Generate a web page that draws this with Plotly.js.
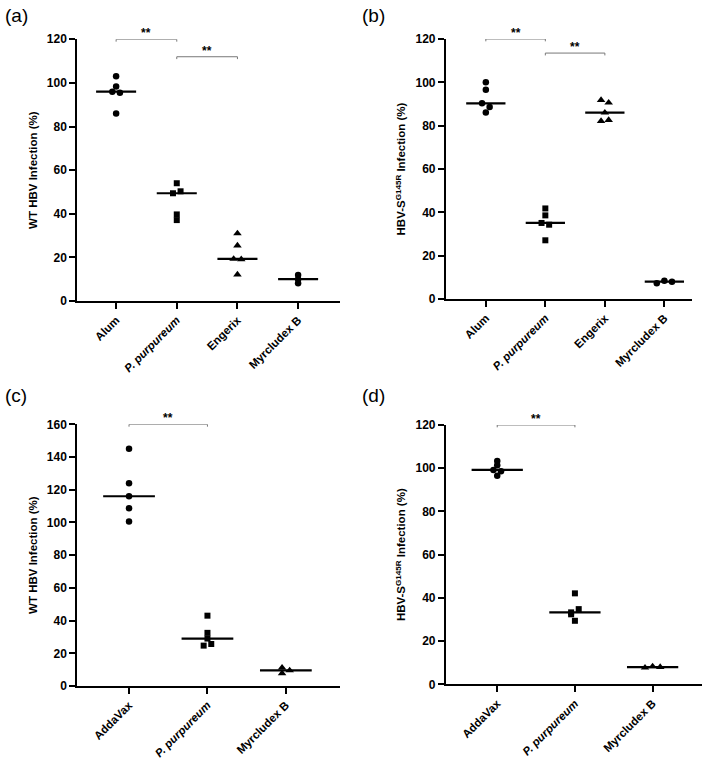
<!DOCTYPE html>
<html>
<head>
<meta charset="utf-8">
<script src="https://cdn.plot.ly/plotly-3.0.1.min.js"></script>
<style>html,body{margin:0;padding:0;background:#fff;}#chart{width:709px;height:763px;}</style>
</head>
<body>
<div id="chart"></div>
<script>
// ---------- DATA ----------
const catsAB = ['Alum', '<i>P. purpureum</i>', 'Engerix', 'Myrcludex B'];
const catsCD = ['AddaVax', '<i>P. purpureum</i>', 'Myrcludex B'];

const aAlum     = [103, 98.3, 96.0, 95.5, 86];
const aPpur     = [54, 49.4, 50.3, 39.7, 37.1];
const aEngerix  = [31, 25.4, 19.3, 19.1, 12.1];
const aMyr      = [11.9, 10, 8.1];

const bAlum     = [100, 96.6, 90.3, 88.6, 86.1];
const bPpur     = [41.8, 38.6, 35.1, 34.3, 27.1];
const bEngerix  = [91.8, 90.6, 86, 82.1, 82.6];
const bMyr      = [7.3, 8.4, 8.0];

const cAddaVax  = [145, 124, 116, 108.6, 100.5];
const cPpur     = [43, 32.5, 29, 24.7, 25.7];
const cMyr      = [11.2, 9.5, 7.8];

const dAddaVax  = [103.3, 101.4, 99.2, 98.6, 96.5];
const dPpur     = [42.1, 33.3, 34.8, 32.4, 29.4];
const dMyr      = [7.7, 8.3, 8.0];

const yTitleWT  = 'WT HBV Infection (%)';
const yTitleMut = 'HBV-S<sup>G145R</sup> Infection (%)';

// significance comparisons: [group i, group j, bracket level]
const sigA = [[0, 1, 120], [1, 2, 112]];
const sigB = [[0, 1, 120], [1, 2, 113.5]];
const sigC = [[0, 1, 160]];
const sigD = [[0, 1, 120]];

// ---------- BUILD ----------
const W = 709, H = 763;
const FONT = 'Liberation Sans, Arial, Helvetica, sans-serif';
const panels = [
  {label: '(a)', cats: catsAB, groups: [aAlum, aPpur, aEngerix, aMyr], syms: ['circle','square','triangle-up','circle'],
   title: yTitleWT, xd: [0.109, 0.4795], yd: [0.6055, 0.9485], xr: [-0.64, 3.69], yr: [0, 120], sig: sigA, lx: 3, ly: 3},
  {label: '(b)', cats: catsAB, groups: [bAlum, bPpur, bEngerix, bMyr], syms: ['circle','square','triangle-up','circle'],
   title: yTitleMut, xd: [0.629, 0.9765], yd: [0.6081, 0.9489], xr: [-0.67, 3.47], yr: [0, 120], sig: sigB, lx: 360, ly: 3},
  {label: '(c)', cats: catsCD, groups: [cAddaVax, cPpur, cMyr], syms: ['circle','square','triangle-up'],
   title: yTitleWT, xd: [0.109, 0.4795], yd: [0.1009, 0.4439], xr: [-0.66, 2.69], yr: [0, 160], sig: sigC, lx: 3, ly: 383},
  {label: '(d)', cats: catsCD, groups: [dAddaVax, dPpur, dMyr], syms: ['circle','square','triangle-up'],
   title: yTitleMut, xd: [0.629, 0.9906], yd: [0.1031, 0.443], xr: [-0.66, 2.64], yr: [0, 120], sig: sigD, lx: 360, ly: 383}
];

function median(arr) {
  const s = arr.slice().sort((a, b) => a - b);
  const n = s.length;
  return n % 2 ? s[(n - 1) / 2] : (s[n / 2 - 1] + s[n / 2]) / 2;
}

// GraphPad-like scatter spreading of overlapping points
function spread(vals, thr, h) {
  const order = vals.map((v, i) => i).sort((a, b) => vals[b] - vals[a]);
  const clusters = [];
  let cur = [order[0]];
  for (let k = 1; k < order.length; k++) {
    if (vals[cur[cur.length - 1]] - vals[order[k]] < thr) cur.push(order[k]);
    else { clusters.push(cur); cur = [order[k]]; }
  }
  clusters.push(cur);
  const off = new Array(vals.length).fill(0);
  clusters.forEach(cl => {
    const n = cl.length;
    if (n === 1) return;
    const members = cl.slice().sort((a, b) => a - b);
    const vs = members.map(i => vals[i]);
    const span = Math.max(...vs) - Math.min(...vs);
    members.forEach((idx, k) => {
      off[idx] = span < thr ? (k - (n - 1) / 2) * 2 * h : (k % 2 === 0 ? -h : h);
    });
  });
  return off;
}

const traces = [];
const layout = {
  width: W, height: H,
  margin: {l: 0, r: 0, t: 0, b: 0},
  paper_bgcolor: '#fff', plot_bgcolor: 'rgba(0,0,0,0)',
  showlegend: false,
  font: {family: FONT, color: '#000', size: 12},
  annotations: []
};

panels.forEach((p, pi) => {
  const n = pi + 1;
  const xa = 'x' + (n === 1 ? '' : n), ya = 'y' + (n === 1 ? '' : n);
  const xk = 'xaxis' + (n === 1 ? '' : n), yk = 'yaxis' + (n === 1 ? '' : n);
  const pxPerCat = (p.xd[1] - p.xd[0]) * W / (p.xr[1] - p.xr[0]);
  const h = 3.8 / pxPerCat;
  const thr = 0.015 * (p.yr[1] - p.yr[0]);

  // points
  p.groups.forEach((g, gi) => {
    const off = spread(g, thr, h);
    const sym = p.syms[gi];
    traces.push({
      type: 'scatter', mode: 'markers', xaxis: xa, yaxis: ya,
      x: g.map((v, i) => gi + off[i]), y: g,
      marker: {symbol: sym, color: '#000', size: sym === 'circle' ? 6.5 : (sym === 'square' ? 6 : 7.5), line: {width: 0}},
      cliponaxis: false, hoverinfo: 'y'
    });
  });

  // median lines
  const mx = [], my = [];
  p.groups.forEach((g, gi) => {
    const m = median(g);
    mx.push(gi - 0.33, gi + 0.33, null);
    my.push(m, m, null);
  });
  traces.push({type: 'scatter', mode: 'lines', xaxis: xa, yaxis: ya, x: mx, y: my,
    line: {color: '#000', width: 2.2}, hoverinfo: 'skip', cliponaxis: false});

  // significance brackets
  const drop = 0.009 * (p.yr[1] - p.yr[0]);
  p.sig.forEach(s => {
    traces.push({type: 'scatter', mode: 'lines', xaxis: xa, yaxis: ya,
      x: [s[0], s[0], s[1], s[1]], y: [s[2] - drop, s[2], s[2], s[2] - drop],
      line: {color: '#777', width: 1}, hoverinfo: 'skip', cliponaxis: false});
    layout.annotations.push({xref: xa, yref: ya, x: (s[0] + s[1]) / 2, y: s[2],
      text: '<b>**</b>', showarrow: false, yanchor: 'bottom', yshift: -3,
      font: {size: 12, color: '#000', family: FONT}});
  });

  layout[xk] = {
    domain: p.xd, range: p.xr, anchor: ya, type: 'linear',
    tickvals: p.cats.map((c, i) => i), ticktext: p.cats, tickangle: -45,
    showgrid: false, zeroline: false, showline: true, linecolor: '#000', linewidth: 2,
    ticks: 'outside', ticklen: 6, tickwidth: 2, tickcolor: '#000',
    tickfont: {size: 11.5, color: '#000', family: FONT, weight: 'bold'}, fixedrange: true
  };
  layout[yk] = {
    domain: p.yd, range: p.yr, anchor: xa,
    dtick: 20, tick0: 0,
    showgrid: false, zeroline: false, showline: true, linecolor: '#000', linewidth: 2,
    ticks: 'outside', ticklen: 6, tickwidth: 2, tickcolor: '#000',
    tickfont: {size: 12, color: '#000', family: FONT, weight: 'bold'},
    title: {text: p.title, font: {size: 11.5, color: '#000', family: FONT, weight: 'bold'}, standoff: 7}, fixedrange: true
  };

  layout.annotations.push({xref: 'paper', yref: 'paper', x: p.lx / W, y: 1 - p.ly / H,
    xanchor: 'left', yanchor: 'top', text: p.label, showarrow: false,
    font: {size: 19, color: '#000', family: FONT}});
});

Plotly.newPlot('chart', traces, layout, {displayModeBar: false, staticPlot: true});
</script>
</body>
</html>
